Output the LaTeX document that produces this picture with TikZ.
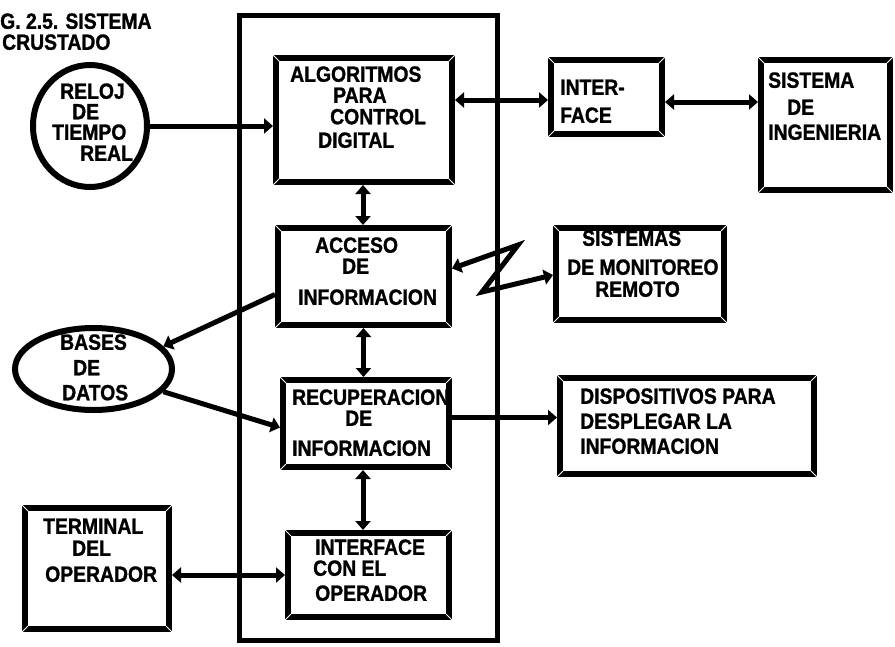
\documentclass[tikz,border=0pt]{standalone}
\usepackage{fontspec}
\newfontfamily\lab{Liberation Sans}[FakeStretch=0.88,FakeBold=1.2]
\usetikzlibrary{arrows.meta,calc,shapes.geometric}

\begin{document}
\begin{tikzpicture}[x=1pt,y=-1pt,
  >={Triangle[length=9pt,width=15pt]},
  box/.style={draw,line width=6pt,inner sep=0pt,outer sep=3pt},
  oval/.style={draw,ellipse,line width=6pt,inner sep=0pt,outer sep=3pt},
  frame/.style={draw,line width=5pt,inner sep=0pt},
  txt/.style={anchor=west,inner sep=0pt,
    font=\lab\bfseries\fontsize{22}{22}\selectfont,
    text height=15.5pt,text depth=0pt},
  link/.style={line width=5pt},
  bevel/.style={white,line width=1pt}
]
\useasboundingbox[fill=white] (0,0) rectangle (895,646);

% caption
\node[txt] (cap1) at (0,21) {G. 2.5. SISTEMA};
\node[txt] (cap2) at (2,42) {CRUSTADO};

% enclosing system
\node[frame,minimum width=258pt,minimum height=625pt] (sys) at (368.5,328) {};

% blocks
\node[box,minimum width=176pt,minimum height=124pt] (algo)   at (364,120)   {};
\node[box,minimum width=111pt,minimum height=74pt]  (iface)  at (606.5,97)  {};
\node[box,minimum width=129pt,minimum height=130pt] (ing)    at (825.5,125) {};
\node[box,minimum width=171pt,minimum height=97pt]  (acceso) at (363.5,276.5) {};
\node[box,minimum width=168pt,minimum height=92pt]  (monit)  at (640,274)   {};
\node[box,minimum width=166pt,minimum height=87pt]  (recup)  at (366,423.5) {};
\node[box,minimum width=254pt,minimum height=96pt]  (disp)   at (687,426)   {};
\node[box,minimum width=161pt,minimum height=84pt]  (intop)  at (368.5,575) {};
\node[box,minimum width=144pt,minimum height=121pt] (term)   at (97,568.5)  {};
\node[oval,minimum width=114pt,minimum height=122pt] (reloj) at (90,126)    {};
\node[oval,minimum width=157pt,minimum height=82pt]  (bases) at (93.5,369)  {};

% bevelled corners of the blocks
\foreach \b in {algo,iface,ing,acceso,monit,recup,disp,intop,term} {
  \draw[bevel] (\b.north west) -- ++(6pt,-6pt);
  \draw[bevel] (\b.north east) -- ++(-6pt,-6pt);
  \draw[bevel] (\b.south west) -- ++(6pt,6pt);
  \draw[bevel] (\b.south east) -- ++(-6pt,6pt);
}

% labels
\node[txt] (t1) at (60,91)  {RELOJ};
\node[txt] (t2) at (72,111.5) {DE};
\node[txt] (t3) at (52,132) {TIEMPO};
\node[txt] (t4) at (80,153) {REAL};

\node[txt] (a1) at (290,74)  {ALGORITMOS};
\node[txt] (a2) at (333,95)  {PARA};
\node[txt] (a3) at (330,116.5) {CONTROL};
\node[txt] (a4) at (318,140) {DIGITAL};

\node[txt] (i1) at (560,87)  {INTER-};
\node[txt] (i2) at (560,115) {FACE};

\node[txt] (g1) at (768,80)  {SISTEMA};
\node[txt] (g2) at (787,107) {DE};
\node[txt] (g3) at (768,132) {INGENIERIA};

\node[txt] (c1) at (315,245) {ACCESO};
\node[txt] (c2) at (342,266) {DE};
\node[txt] (c3) at (298,297) {INFORMACION};

\node[txt] (m1) at (582,238) {SISTEMAS};
\node[txt] (m2) at (567,267) {DE MONITOREO};
\node[txt] (m3) at (595,289) {REMOTO};

\node[txt] (b1) at (60,342)   {BASES};
\node[txt] (b2) at (73,367.5) {DE};
\node[txt] (b3) at (62,392.5) {DATOS};

\node[txt] (r1) at (292,397)   {RECUPERACION};
\node[txt] (r2) at (345,418) {DE};
\node[txt] (r3) at (292,448)   {INFORMACION};

\node[txt] (d1) at (580,396) {DISPOSITIVOS PARA};
\node[txt] (d2) at (580,421) {DESPLEGAR LA};
\node[txt] (d3) at (580,446) {INFORMACION};

\node[txt] (o1) at (315,547)   {INTERFACE};
\node[txt] (o2) at (313,568) {CON EL};
\node[txt] (o3) at (315,593)   {OPERADOR};

\node[txt] (e1) at (43,526) {TERMINAL};
\node[txt] (e2) at (72,548) {DEL};
\node[txt] (e3) at (45,574) {OPERADOR};

% connectors
\draw[link,->] (reloj.east) -- (reloj.east -| algo.west);
\draw[link,<->] ([yshift=-3pt]iface.west -| algo.east) -- ([yshift=-3pt]iface.west);
\draw[link,<->] ([yshift=-5pt]iface.east) -- ([yshift=-5pt]iface.east -| ing.west);
\draw[link,<->] ([xshift=-1pt]algo.south) -- ([xshift=-1pt]algo.south |- acceso.north);
\draw[link,<->] (acceso.south) -- (acceso.south |- recup.north);
\draw[link,<->] ([xshift=-3pt]recup.south) -- ([xshift=-3pt]recup.south |- intop.north);
\draw[link,->] ([yshift=-18pt]acceso.west) -- (bases.18);
\draw[link,->] (bases.-18) -- ([yshift=-4pt]recup.west);
\coordinate (z1) at (518,245);
\coordinate (z2) at (482,292);
\draw[link,<->,line join=miter] ([yshift=8pt]acceso.east) -- (z1) -- (z2) -- ([yshift=-1pt]monit.west);
\draw[link,->] ([yshift=6pt]recup.east) -- ([yshift=6pt]recup.east -| disp.west);
\draw[link,<->] (intop.west -| term.east) -- (intop.west);
\end{tikzpicture}
\end{document}
